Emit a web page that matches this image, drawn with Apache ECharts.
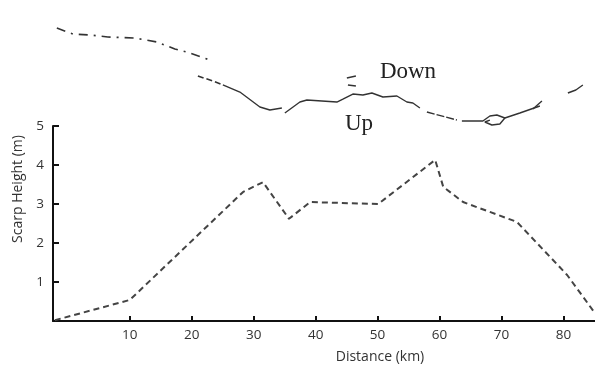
<!DOCTYPE html>
<html>
<head>
<meta charset="utf-8">
<script src="https://cdn.jsdelivr.net/npm/echarts@6/dist/echarts.min.js"></script>
<style>html,body{margin:0;padding:0;background:#fff}#c{width:595px;height:366px}</style>
</head>
<body>
<div id="c"></div>
<script>
// Scarp height profile: [distance km, height m]
const profileDistance = [-2.1, 10.0, 28.3, 31.5, 35.7, 39.1, 50.1, 59.3, 60.6, 63.8, 72.5, 80.6, 85.1];
const profileHeight   = [0.02, 0.54, 3.31, 3.56, 2.62, 3.05, 3.00, 4.13, 3.44, 3.05, 2.54, 1.18, 0.20];
const xTickValues = [10, 20, 30, 40, 50, 60, 70, 80];
const yTickValues = [1, 2, 3, 4, 5];

// Fault trace map: [distance km, offset km]
const traceDashDotA = [[-1.78,16.47],[0.81,15.50],[3.55,15.34],[6.46,15.01],[10.82,14.85],[14.37,14.21],[17.27,13.08],[19.21,12.59],[22.93,11.30]];
const traceDashedB  = [[20.99,8.72],[23.41,7.91],[25.02,7.27]];
const traceSolid1   = [[25.02,7.27],[27.77,6.13],[31.00,3.71],[32.61,3.23],[34.55,3.55]];
const traceSolid2   = [[35.03,2.74],[37.46,4.52],[38.59,4.84],[43.43,4.52],[44.40,5.00],[46.01,5.81],[47.63,5.65],[49.08,5.97],[50.86,5.33],[53.12,5.49],[54.73,4.52],[55.70,4.36],[56.83,3.55]];
const traceDashedC  = [[57.96,2.91],[62.80,1.61]];
const traceSolid3   = [[63.61,1.45],[67.00,1.45],[68.13,2.26],[69.26,2.42],[70.55,1.94],[69.74,0.97],[68.45,0.81],[67.32,1.29],[68.13,1.60]];
const traceSolid4   = [[70.55,1.94],[72.97,2.74],[76.20,3.87]];
const traceFork     = [[75.07,3.39],[76.53,4.68]];
const traceMarkA    = [[45.04,8.40],[46.50,8.72]];
const traceMarkB    = [[45.21,7.27],[46.50,7.10]];
const traceRight    = [[80.72,5.97],[82.01,6.46],[83.14,7.27]];

const font = '"Open Sans", "DejaVu Sans", sans-serif';
const chart = echarts.init(document.getElementById('c'), null, {renderer: 'canvas'});

function traceSeries(data, type, width) {
  return {
    type: 'line', xAxisIndex: 1, yAxisIndex: 1, data: data,
    showSymbol: false, symbol: 'none', silent: true, animation: false,
    lineStyle: {color: '#333', width: width || 1.4, type: type || 'solid'}
  };
}

chart.setOption({
  backgroundColor: '#fff',
  animation: false,
  grid: [
    {left: 53, width: 542, top: 126, height: 195, containLabel: false},
    {left: 53, width: 542, top: 18.5, height: 123.9, containLabel: false}
  ],
  xAxis: [
    {
      type: 'value', gridIndex: 0, min: -2.4, max: 85.1,
      axisLine: {show: true, onZero: false, lineStyle: {color: '#111', width: 2}},
      axisTick: {show: true, inside: true, length: 5, customValues: xTickValues, lineStyle: {color: '#111', width: 2}},
      axisLabel: {show: true, customValues: xTickValues, color: '#333', fontSize: 13.5, fontFamily: font, margin: 7},
      splitLine: {show: false}
    },
    {type: 'value', gridIndex: 1, min: -2.4, max: 85.1, show: false}
  ],
  yAxis: [
    {
      type: 'value', gridIndex: 0, min: 0, max: 5, interval: 1,
      axisLine: {show: true, onZero: false, lineStyle: {color: '#111', width: 2}},
      axisTick: {show: true, inside: true, length: 6, customValues: yTickValues, lineStyle: {color: '#111', width: 2}},
      axisLabel: {show: true, customValues: yTickValues, color: '#333', fontSize: 13.5, fontFamily: font, margin: 9},
      splitLine: {show: false}
    },
    {type: 'value', gridIndex: 1, min: -2, max: 18, show: false}
  ],
  graphic: [
    {type: 'text', x: 380, y: 357, style: {text: 'Distance (km)', fill: '#333', font: '14px ' + font, align: 'center', verticalAlign: 'middle'}},
    {type: 'text', x: 18, y: 189, rotation: Math.PI / 2,
     style: {text: 'Scarp Height (m)', fill: '#333', font: '14px ' + font, align: 'center', verticalAlign: 'middle'}},
    {type: 'text', x: 408, y: 72, style: {text: 'Down', fill: '#222', font: '23px "Liberation Serif", "DejaVu Serif", serif', align: 'center', verticalAlign: 'middle'}},
    {type: 'text', x: 359, y: 124, style: {text: 'Up', fill: '#222', font: '23px "Liberation Serif", "DejaVu Serif", serif', align: 'center', verticalAlign: 'middle'}}
  ],
  series: [
    {
      type: 'line', xAxisIndex: 0, yAxisIndex: 0,
      data: profileDistance.map((d, i) => [d, profileHeight[i]]),
      showSymbol: false, symbol: 'none', silent: true, clip: false,
      lineStyle: {color: '#444', width: 2, type: [6, 4]}
    },
    traceSeries(traceDashDotA, [9, 6, 2, 6], 1.6),
    traceSeries(traceDashedB, [6, 3], 1.6),
    traceSeries(traceSolid1),
    traceSeries(traceSolid2),
    traceSeries(traceDashedC, [8, 2], 1.4),
    traceSeries(traceSolid3),
    traceSeries(traceSolid4),
    traceSeries(traceFork),
    traceSeries(traceMarkA),
    traceSeries(traceMarkB),
    traceSeries(traceRight)
  ]
});
</script>
</body>
</html>
